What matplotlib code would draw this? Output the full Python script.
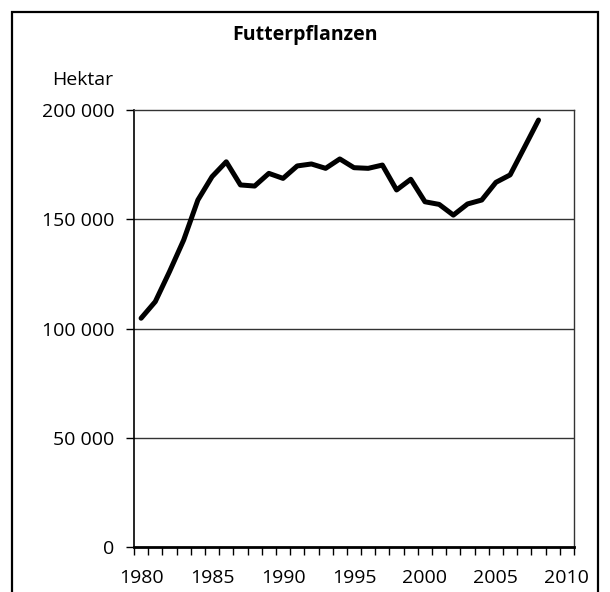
import numpy as np
import matplotlib.pyplot as plt
import matplotlib.patches as patches

# area of fodder crops (Futterpflanzen), hectares per year
years = list(range(1980, 2009))
hektar = [104700, 112300, 126000, 140500, 158800, 169500, 176300, 165700, 165200,
          171000, 168700, 174400, 175300, 173300, 177600, 173600, 173300, 174800,
          163400, 168300, 158000, 156800, 151900, 157000, 158800, 166900, 170300,
          182800, 195400]

y_ticks = [0, 50000, 100000, 150000, 200000]
y_labels = ['0', '50 000', '100 000', '150 000', '200 000']
x_labels = [1980, 1985, 1990, 1995, 2000, 2005, 2010]

plt.rcParams['font.family'] = ['Open Sans', 'DejaVu Sans']

fig = plt.figure(figsize=(6.10, 5.92), dpi=100)
ax = fig.add_axes([134/610, 45/592, 440/610, 437/592])

# gridlines behind the data
for v in y_ticks[1:-1]:
    ax.axhline(v, color='#333333', lw=1.0, zorder=1)

ax.plot(years, hektar, color='black', lw=3.6, solid_capstyle='round',
        solid_joinstyle='round', zorder=3)

ax.set_xlim(1979.5, 2010.5)
ax.set_ylim(0, 200000)

ax.set_yticks(y_ticks)
ax.set_yticklabels(y_labels, fontsize=14)
ax.tick_params(axis='y', direction='out', length=6, width=1, pad=8)

# category style x axis: labels under the year, tick marks between years
ax.set_xticks(x_labels)
ax.set_xticklabels([str(x) for x in x_labels], fontsize=14)
ax.set_xticks(np.arange(1979.5, 2011, 1), minor=True)
ax.tick_params(axis='x', which='major', length=0, pad=16)
ax.tick_params(axis='x', which='minor', direction='out', length=6, width=1)

ax.spines['left'].set_linewidth(1.2)
ax.spines['bottom'].set_linewidth(2.0)
ax.spines['top'].set_linewidth(1.0)
ax.spines['right'].set_linewidth(1.0)
ax.spines['top'].set_color('#333333')
ax.spines['right'].set_color('#333333')

ax.text(-21/440, 1.069, 'Hektar', transform=ax.transAxes, ha='right', va='center',
        fontsize=14)
fig.text(0.5, 1 - 35/592, 'Futterpflanzen', ha='center', va='center',
         fontsize=14, fontweight='bold')

# outer frame, open at the bottom edge
border = patches.Rectangle((12/610, -0.05), 586/610, 1.05 - 12/592,
                           transform=fig.transFigure, fill=False,
                           edgecolor='black', lw=1.6)
fig.patches.append(border)

fig.savefig('out.png', dpi=100)
